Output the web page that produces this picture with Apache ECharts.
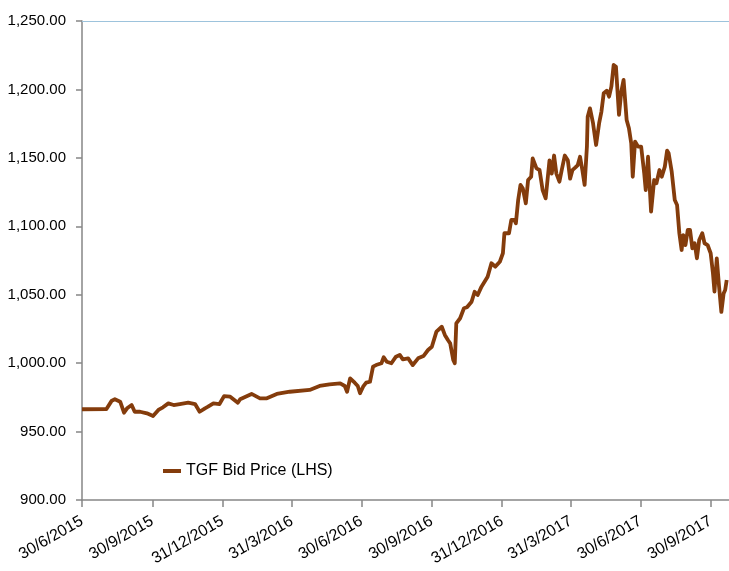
<!DOCTYPE html>
<html>
<head>
<meta charset="utf-8">
<script src="https://cdn.jsdelivr.net/npm/echarts@6/dist/echarts.min.js"></script>
<style>
html,body{margin:0;padding:0;background:#fff;}
#chart{width:729px;height:571px;}
</style>
</head>
<body>
<div id="chart"></div>
<script>
var seriesName = 'TGF Bid Price (LHS)';
var tickDates = ['2015-06-30','2015-09-30','2015-12-31','2016-03-31','2016-06-30','2016-09-30','2016-12-31','2017-03-31','2017-06-30','2017-09-30'];
var yTicks = [900, 950, 1000, 1050, 1100, 1150, 1200, 1250];
var dates = [
'2015-06-30','2015-08-01','2015-08-08','2015-08-12','2015-08-19','2015-08-24','2015-08-28','2015-09-03','2015-09-07','2015-09-14',
'2015-09-23','2015-10-01','2015-10-08','2015-10-14','2015-10-21','2015-10-28','2015-11-05','2015-11-16','2015-11-25','2015-12-01',
'2015-12-08','2015-12-12','2015-12-19','2015-12-27','2016-01-02','2016-01-10','2016-01-20','2016-01-23','2016-02-07','2016-02-18',
'2016-02-27','2016-03-11','2016-03-28','2016-04-23','2016-05-06','2016-05-19','2016-06-02','2016-06-08','2016-06-11','2016-06-15',
'2016-06-21','2016-06-25','2016-06-28','2016-07-02','2016-07-06','2016-07-11','2016-07-15','2016-07-19','2016-07-26','2016-07-29',
'2016-08-02','2016-08-08','2016-08-14','2016-08-19','2016-08-23','2016-08-30','2016-09-05','2016-09-12','2016-09-19','2016-09-25',
'2016-09-30','2016-10-06','2016-10-13','2016-10-17','2016-10-21','2016-10-24','2016-10-28','2016-10-30','2016-11-01','2016-11-06',
'2016-11-11','2016-11-15','2016-11-21','2016-11-25','2016-11-29','2016-12-04','2016-12-08','2016-12-12','2016-12-17','2016-12-22',
'2016-12-28','2017-01-01','2017-01-03','2017-01-09','2017-01-12','2017-01-16','2017-01-18','2017-01-21','2017-01-24','2017-01-27',
'2017-01-31','2017-02-03','2017-02-07','2017-02-09','2017-02-14','2017-02-18','2017-02-22','2017-02-26','2017-03-03','2017-03-06',
'2017-03-09','2017-03-12','2017-03-16','2017-03-19','2017-03-23','2017-03-27','2017-03-30','2017-04-02','2017-04-06','2017-04-09',
'2017-04-12','2017-04-15','2017-04-18','2017-04-21','2017-04-22','2017-04-25','2017-04-29','2017-05-03','2017-05-07','2017-05-10',
'2017-05-13','2017-05-17','2017-05-20','2017-05-23','2017-05-26','2017-05-29','2017-06-02','2017-06-05','2017-06-08','2017-06-12',
'2017-06-15','2017-06-18','2017-06-20','2017-06-23','2017-06-27','2017-07-01','2017-07-05','2017-07-07','2017-07-10','2017-07-14',
'2017-07-18','2017-07-21','2017-07-25','2017-07-28','2017-08-01','2017-08-04','2017-08-06','2017-08-10','2017-08-14','2017-08-17',
'2017-08-20','2017-08-23','2017-08-25','2017-08-28','2017-08-31','2017-09-03','2017-09-06','2017-09-09','2017-09-12','2017-09-15',
'2017-09-19','2017-09-22','2017-09-26','2017-09-30','2017-10-03','2017-10-05','2017-10-08','2017-10-11','2017-10-14','2017-10-17',
'2017-10-19','2017-10-21'
];
var prices = [
966.3,966.5,972.6,973.6,971.8,963.8,967.0,969.4,964.5,964.5,
963.3,961.4,965.8,967.7,970.6,969.4,970.1,971.1,970.1,964.5,
967.0,968.2,970.6,970.1,975.9,975.5,971.1,973.6,977.5,974.3,
974.3,977.5,979.1,980.4,983.3,984.5,985.2,983.3,979.1,988.9,
985.7,983.3,978.0,982.8,985.7,986.4,997.4,998.6,999.9,1004.3,
1001.0,999.9,1004.7,1006.0,1002.8,1003.5,998.6,1003.5,1005.2,1009.6,
1012.0,1023.0,1026.6,1020.6,1016.9,1014.5,1002.3,999.9,1029.1,1032.8,
1040.1,1040.8,1044.9,1052.2,1049.8,1055.9,1059.5,1063.2,1073.0,1070.5,
1074.1,1080.3,1094.9,1094.9,1104.6,1104.6,1102.2,1119.2,1130.2,1127.8,
1116.8,1133.8,1136.2,1149.6,1142.3,1141.1,1126.5,1120.4,1148.2,1138.5,
1151.7,1138.5,1132.6,1141.1,1151.7,1148.2,1134.8,1141.0,1143.0,1144.7,
1150.8,1141.1,1130.2,1158.2,1180.0,1186.2,1175.3,1159.4,1175.3,1183.8,
1197.2,1199.1,1194.7,1202.0,1217.9,1216.6,1181.4,1198.4,1206.9,1177.7,
1171.6,1160.7,1136.2,1161.9,1158.2,1158.2,1138.7,1126.5,1150.8,1110.7,
1133.8,1131.4,1141.1,1136.2,1143.6,1155.3,1153.4,1139.9,1119.2,1115.6,
1094.9,1082.7,1093.6,1086.3,1097.3,1097.3,1083.9,1087.6,1076.6,1090.0,
1094.9,1087.6,1086.3,1080.3,1065.7,1052.2,1076.6,1055.9,1037.4,1051.0,
1053.4,1060.7
];
var xMin = '2015-06-30';
var xMax = '2017-10-24';

function toTime(s){ var p = s.split('-'); return Date.UTC(+p[0], +p[1]-1, +p[2]); }
function fmtDate(v){ var d = new Date(v); return d.getUTCDate() + '/' + (d.getUTCMonth()+1) + '/' + d.getUTCFullYear(); }
var tickTimes = tickDates.map(toTime);
var seriesData = dates.map(function(d, i){ return [toTime(d), prices[i]]; });

var FONT = '"Liberation Sans Narrow", "Liberation Sans", sans-serif';
var chart = echarts.init(document.getElementById('chart'), null, {renderer:'canvas'});
chart.setOption({
  animation: false,
  backgroundColor: '#ffffff',
  grid: { left: 82, right: 0, top: 21, bottom: 71, containLabel: false },
  legend: {
    left: 158, top: 458,
    itemWidth: 18, itemHeight: 4, itemGap: 0,
    icon: 'rect',
    textStyle: { fontFamily: FONT, fontSize: 16, color: '#000' },
    data: [seriesName]
  },
  xAxis: [{
    type: 'value',
    min: toTime(xMin), max: toTime(xMax),
    axisLine: { show: true, lineStyle: { color: '#868686', width: 1.5 } },
    axisTick: { show: true, length: 7, customValues: tickTimes, lineStyle: { color: '#868686', width: 1.5 } },
    axisLabel: {
      show: true, rotate: 30, margin: 20,
      customValues: tickTimes,
      hideOverlap: false,
      fontFamily: FONT, fontSize: 16, color: '#000',
      formatter: fmtDate
    },
    splitLine: { show: false }
  }, {
    type: 'value', position: 'top',
    min: toTime(xMin), max: toTime(xMax),
    axisLine: { show: true, lineStyle: { color: '#9DC3DC', width: 1.2 } },
    axisTick: { show: false }, axisLabel: { show: false }, splitLine: { show: false }
  }],
  yAxis: {
    type: 'value', min: yTicks[0], max: yTicks[yTicks.length-1], interval: 50,
    axisLine: { show: true, lineStyle: { color: '#868686', width: 1.5 } },
    axisTick: { show: true, length: 6, lineStyle: { color: '#868686', width: 1.5 } },
    axisLabel: {
      margin: 16, fontFamily: FONT, fontSize: 15, color: '#000',
      formatter: function(v){ return v.toLocaleString('en-US', {minimumFractionDigits:2, maximumFractionDigits:2}); }
    },
    splitLine: { show: false }
  },
  series: [{
    name: seriesName, type: 'line', xAxisIndex: 0,
    data: seriesData, showSymbol: false, symbol: 'none',
    lineStyle: { color: '#843C0C', width: 3.8, join: 'round' },
    itemStyle: { color: '#843C0C' }
  }]
});
</script>
</body>
</html>
